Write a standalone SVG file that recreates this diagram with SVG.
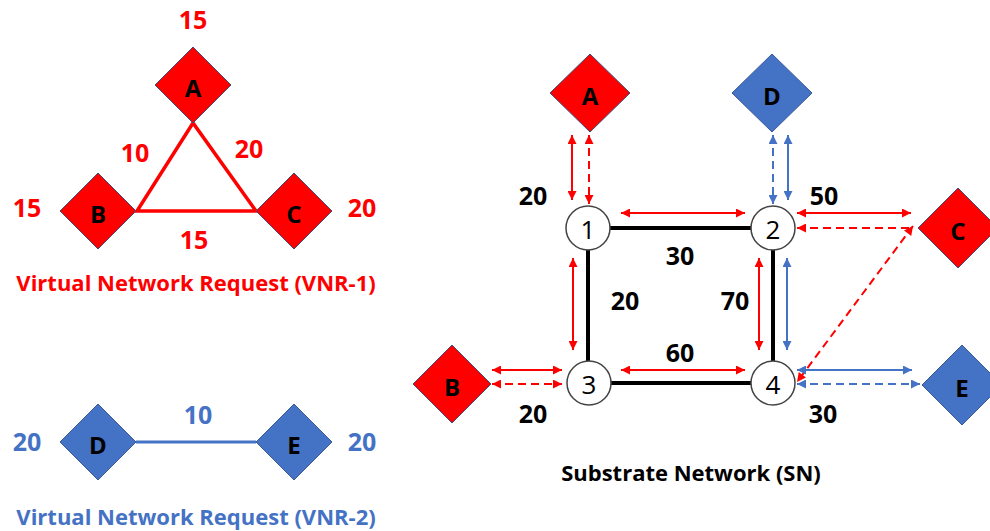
<svg xmlns="http://www.w3.org/2000/svg" width="990" height="531" viewBox="0 0 990 531">
<style>
text{font-family:"Open Sans","Liberation Sans",sans-serif;text-anchor:middle;dominant-baseline:central}
.num{font-size:25px;font-weight:bold}
.r{fill:#FF0000}.b{fill:#4472C4}.k{fill:#000}
.lbl{font-size:24px;font-weight:bold;fill:#000}
.ttl{font-size:22px;font-weight:bold}
.dr{fill:#FF0000;stroke:#3A4F7A;stroke-width:1}
.db{fill:#4472C4;stroke:#3A5A9A;stroke-width:1}
.node{fill:#fff;stroke:#444;stroke-width:1.5}
.nid{font-size:26px;fill:#000}
.edge{stroke:#000;stroke-width:4;fill:none}
.ar{stroke:#FF0000;stroke-width:2;fill:none;marker-start:url(#mr);marker-end:url(#mr)}
.ab{stroke:#4472C4;stroke-width:2;fill:none;marker-start:url(#mb);marker-end:url(#mb)}
.dash{stroke-dasharray:8,5}
</style>
<defs>
<marker id="mr" viewBox="0 0 10 10" refX="10" refY="5" markerUnits="userSpaceOnUse" markerWidth="10" markerHeight="9" orient="auto-start-reverse"><path d="M0,0 L10,5 L0,10 z" fill="#FF0000"/></marker>
<marker id="mb" viewBox="0 0 10 10" refX="10" refY="5" markerUnits="userSpaceOnUse" markerWidth="10" markerHeight="9" orient="auto-start-reverse"><path d="M0,0 L10,5 L0,10 z" fill="#4472C4"/></marker>
</defs>

<!-- VNR-1 -->
<g id="vnr1-links">
<path d="M193,123 L137,211 L256,211 Z" fill="none" stroke="#FF0000" stroke-width="3.5"/>
</g>
<g id="vnr1-A"><path class="dr" d="M193,47 L231,85 L193,123 L155,85 Z"/><text class="lbl" x="193" y="87">A</text><text class="num r" x="193" y="19">15</text></g>
<g id="vnr1-B"><path class="dr" d="M98,173 L136,211 L98,249 L60,211 Z"/><text class="lbl" x="98" y="213">B</text><text class="num r" x="27" y="207">15</text></g>
<g id="vnr1-C"><path class="dr" d="M294,173 L332,211 L294,249 L256,211 Z"/><text class="lbl" x="294" y="213">C</text><text class="num r" x="362" y="207">20</text></g>
<text class="num r" x="135" y="152">10</text>
<text class="num r" x="249" y="148">20</text>
<text class="num r" x="194" y="239">15</text>
<text class="ttl r" x="196" y="282">Virtual Network Request (VNR-1)</text>

<!-- VNR-2 -->
<g id="vnr2-links"><line x1="136" y1="442" x2="256" y2="442" stroke="#4472C4" stroke-width="3"/></g>
<g id="vnr2-D"><path class="db" d="M98,404 L136,442 L98,480 L60,442 Z"/><text class="lbl" x="98" y="444">D</text><text class="num b" x="27" y="441">20</text></g>
<g id="vnr2-E"><path class="db" d="M294,404 L332,442 L294,480 L256,442 Z"/><text class="lbl" x="294" y="444">E</text><text class="num b" x="362" y="441">20</text></g>
<text class="num b" x="198" y="414">10</text>
<text class="ttl b" x="196" y="516">Virtual Network Request (VNR-2)</text>

<!-- Substrate -->
<g id="sn-edges">
<line class="edge" x1="588" y1="228" x2="773" y2="228"/>
<line class="edge" x1="588" y1="228" x2="588" y2="383"/>
<line class="edge" x1="773" y1="228" x2="773" y2="383"/>
<line class="edge" x1="588" y1="383" x2="773" y2="383"/>
</g>
<g id="sn-arrows">
<line class="ar" x1="572" y1="135" x2="572" y2="200"/>
<line class="ar dash" x1="589" y1="135" x2="589" y2="204"/>
<line class="ar" x1="621" y1="213" x2="745" y2="213"/>
<line class="ab dash" x1="773" y1="135" x2="773" y2="204"/>
<line class="ab" x1="788" y1="135" x2="788" y2="200"/>
<line class="ar" x1="797" y1="213" x2="911" y2="213"/>
<line class="ar dash" x1="797" y1="228" x2="913" y2="228" style="marker-end:none"/>
<line class="ar dash" x1="913" y1="226" x2="797" y2="382"/>
<line class="ar" x1="759" y1="258" x2="759" y2="350"/>
<line class="ab" x1="787" y1="258" x2="787" y2="350"/>
<line class="ar" x1="573" y1="258" x2="573" y2="350"/>
<line class="ar" x1="492" y1="370" x2="562" y2="370"/>
<line class="ar dash" x1="492" y1="384" x2="562" y2="384"/>
<line class="ar" x1="621" y1="370" x2="745" y2="370"/>
<line class="ab" x1="797" y1="370" x2="912" y2="370"/>
<line class="ab dash" x1="797" y1="384" x2="920" y2="384"/>
</g>
<g id="sn-1"><circle class="node" cx="588" cy="228" r="22"/><text class="nid" x="588" y="229">1</text></g>
<g id="sn-2"><circle class="node" cx="773" cy="228" r="22"/><text class="nid" x="773" y="229">2</text></g>
<g id="sn-3"><circle class="node" cx="589" cy="383" r="22"/><text class="nid" x="589" y="384">3</text></g>
<g id="sn-4"><circle class="node" cx="773" cy="383" r="22"/><text class="nid" x="773" y="384">4</text></g>
<g id="sn-A"><path class="dr" d="M590,54 L630,93 L590,132 L550,93 Z"/><text class="lbl" x="590" y="95">A</text></g>
<g id="sn-D"><path class="db" d="M772,54 L812,93 L772,132 L732,93 Z"/><text class="lbl" x="772" y="95">D</text></g>
<g id="sn-C"><path class="dr" d="M958,188 L998,228 L958,268 L918,228 Z"/><text class="lbl" x="958" y="230">C</text></g>
<g id="sn-B"><path class="dr" d="M452,345 L491,384 L452,423 L413,384 Z"/><text class="lbl" x="452" y="386">B</text></g>
<g id="sn-E"><path class="db" d="M962,345 L1002,385 L962,425 L922,385 Z"/><text class="lbl" x="962" y="387">E</text></g>
<g id="sn-labels">
<text class="num k" x="533" y="195">20</text>
<text class="num k" x="680" y="255">30</text>
<text class="num k" x="824" y="195">50</text>
<text class="num k" x="625" y="300">20</text>
<text class="num k" x="735" y="300">70</text>
<text class="num k" x="680" y="352">60</text>
<text class="num k" x="533" y="413">20</text>
<text class="num k" x="823" y="413">30</text>
</g>
<text class="ttl k" x="691" y="472">Substrate Network (SN)</text>
</svg>
